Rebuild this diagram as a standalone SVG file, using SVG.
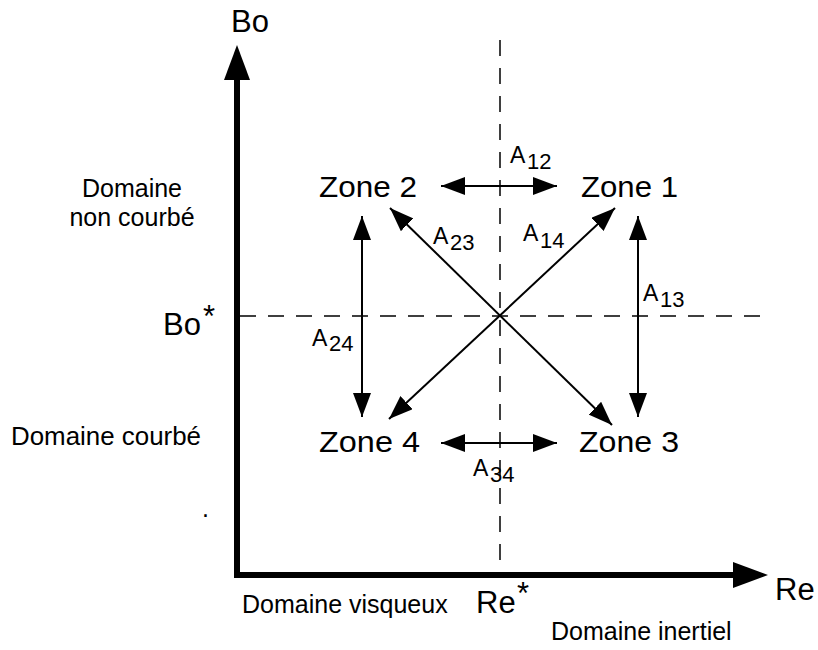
<svg xmlns="http://www.w3.org/2000/svg" width="818" height="650" viewBox="0 0 818 650">
  <style>
    text { font-family: "Liberation Sans", Arial, Helvetica, sans-serif; fill: #000; }
    .zone { font-size: 30px; }
    .axis-label { font-size: 31px; }
    .dom { font-size: 25px; }
    .a { font-size: 23px; }
    .sub { font-size: 22px; }
    .axis { fill: none; stroke: #000; stroke-width: 6; stroke-linejoin: miter; }
    .dash { fill: none; stroke: #000; stroke-width: 1.5; stroke-dasharray: 16 12; }
    .conn { fill: none; stroke: #000; stroke-width: 2; marker-start: url(#head); marker-end: url(#head); }
  </style>
  <defs>
    <marker id="head" viewBox="0 0 24 18" refX="24" refY="9" markerWidth="24" markerHeight="18" markerUnits="userSpaceOnUse" orient="auto-start-reverse">
      <path d="M0,0 L24,9 L0,18 z" fill="#000"/>
    </marker>
    <marker id="bighead" viewBox="0 0 35 26" refX="0" refY="13" markerWidth="35" markerHeight="26" markerUnits="userSpaceOnUse" orient="auto-start-reverse">
      <path d="M0,0 L35,13 L0,26 z" fill="#000"/>
    </marker>
  </defs>

  <!-- reference dashed lines -->
  <g id="thresholds">
    <line class="dash" x1="500" y1="40" x2="500" y2="568"/>
    <line class="dash" x1="240" y1="316" x2="762" y2="316"/>
  </g>

  <!-- axes -->
  <g id="axes">
    <path class="axis" d="M237,80 V575 H733" marker-start="url(#bighead)" marker-end="url(#bighead)"/>
    <text class="axis-label" x="231" y="32">Bo</text>
    <text class="axis-label" x="775" y="600">Re</text>
    <text class="axis-label" x="163" y="335">Bo</text>
    <text class="axis-label" x="203" y="327">*</text>
    <text class="axis-label" x="476" y="613">Re</text>
    <text class="axis-label" x="517" y="604">*</text>
  </g>

  <!-- domain labels -->
  <g id="domains">
    <text class="dom" x="132" y="197" text-anchor="middle">Domaine</text>
    <text class="dom" x="132" y="226" text-anchor="middle">non courbé</text>
    <text class="dom" x="11" y="445" textLength="190" lengthAdjust="spacingAndGlyphs">Domaine courbé</text>
    <text class="dom" x="242" y="613">Domaine visqueux</text>
    <text class="dom" x="551" y="640">Domaine inertiel</text>
    <text class="dom" x="202" y="517">.</text>
  </g>

  <!-- zones -->
  <g id="zone1"><text class="zone" x="581" y="197" textLength="97" lengthAdjust="spacingAndGlyphs">Zone 1</text></g>
  <g id="zone2"><text class="zone" x="319" y="197" textLength="98" lengthAdjust="spacingAndGlyphs">Zone 2</text></g>
  <g id="zone3"><text class="zone" x="579" y="452" textLength="100" lengthAdjust="spacingAndGlyphs">Zone 3</text></g>
  <g id="zone4"><text class="zone" x="319" y="452" textLength="101" lengthAdjust="spacingAndGlyphs">Zone 4</text></g>

  <!-- connectors -->
  <g id="connectors">
    <line class="conn" x1="441" y1="186" x2="557" y2="186"/>
    <line class="conn" x1="441" y1="443" x2="557" y2="443"/>
    <line class="conn" x1="362" y1="216" x2="362" y2="417"/>
    <line class="conn" x1="638" y1="216" x2="638" y2="417"/>
    <line class="conn" x1="390" y1="208" x2="612" y2="425"/>
    <line class="conn" x1="615" y1="208" x2="389" y2="419"/>
  </g>

  <!-- connector labels -->
  <g id="labels">
    <text class="a" x="510" y="163">A</text><text class="sub" x="527" y="169">12</text>
    <text class="a" x="433" y="244">A</text><text class="sub" x="450" y="250">23</text>
    <text class="a" x="523" y="241">A</text><text class="sub" x="540" y="248">14</text>
    <text class="a" x="643" y="301">A</text><text class="sub" x="660" y="307">13</text>
    <text class="a" x="312" y="346">A</text><text class="sub" x="329" y="351">24</text>
    <text class="a" x="473" y="476">A</text><text class="sub" x="490" y="482">34</text>
  </g>
</svg>
